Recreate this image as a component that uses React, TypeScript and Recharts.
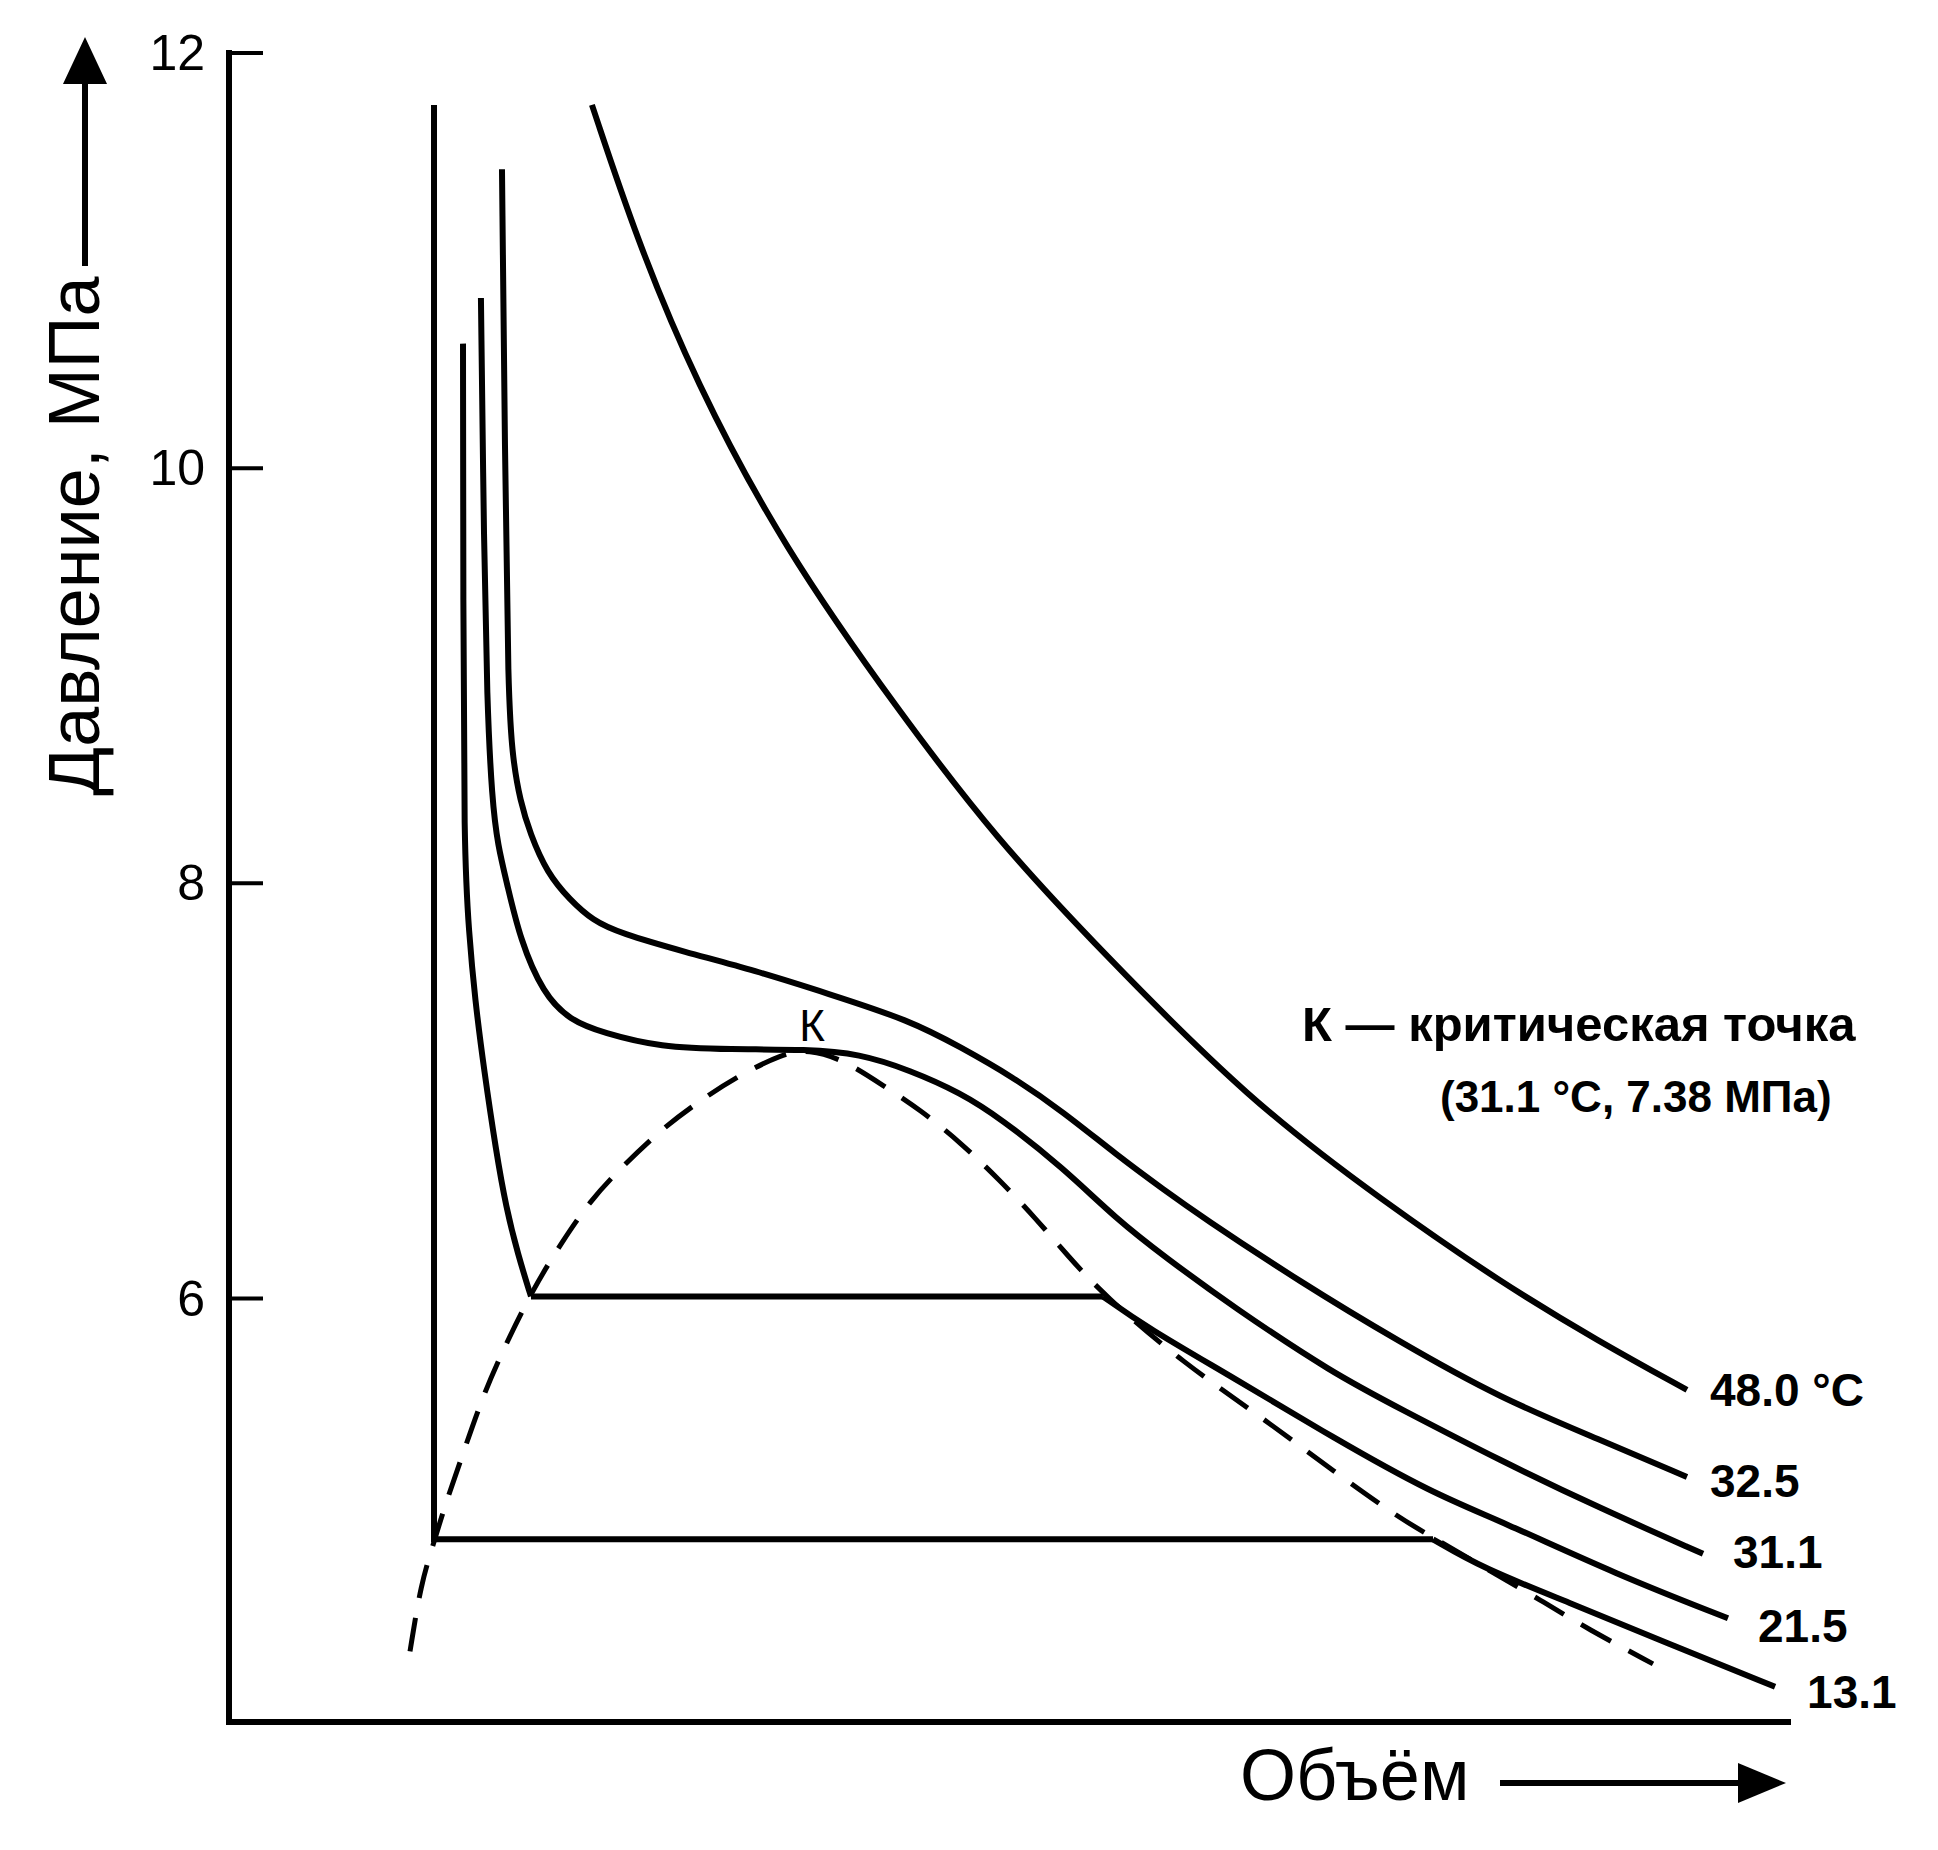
import { LineChart, Line, XAxis, YAxis, ReferenceDot } from 'recharts';

type Pt = { v: number; p: number };

// volume in arbitrary units (0..100), pressure in MPa
const iso48: Pt[] = [
  { v: 23.28, p: 11.75 }, { v: 26.17, p: 11.1 }, { v: 29.89, p: 10.42 }, { v: 35.54, p: 9.62 },
  { v: 43.04, p: 8.82 }, { v: 49.26, p: 8.21 }, { v: 55.87, p: 7.68 }, { v: 65.49, p: 6.95 },
  { v: 74.02, p: 6.47 }, { v: 81.53, p: 6.08 }, { v: 87.94, p: 5.79 }, { v: 93.52, p: 5.56 },
];

const iso325: Pt[] = [
  { v: 17.51, p: 11.44 }, { v: 17.7, p: 10.09 }, { v: 17.9, p: 8.88 }, { v: 18.22, p: 8.59 },
  { v: 18.67, p: 8.4 }, { v: 19.31, p: 8.24 }, { v: 20.4, p: 8.05 }, { v: 21.87, p: 7.92 },
  { v: 23.35, p: 7.82 }, { v: 25.08, p: 7.76 }, { v: 29.19, p: 7.67 }, { v: 33.74, p: 7.58 },
  { v: 38.36, p: 7.47 }, { v: 43.68, p: 7.34 }, { v: 46.95, p: 7.21 }, { v: 50.22, p: 7.07 },
  { v: 53.5, p: 6.9 }, { v: 56.96, p: 6.69 }, { v: 60.04, p: 6.52 }, { v: 62.28, p: 6.4 },
  { v: 68.7, p: 6.08 }, { v: 75.11, p: 5.79 }, { v: 81.53, p: 5.52 }, { v: 87.94, p: 5.32 },
  { v: 93.52, p: 5.14 },
];

const iso311: Pt[] = [
  { v: 16.16, p: 10.82 }, { v: 16.36, p: 9.6 }, { v: 16.55, p: 8.88 }, { v: 16.87, p: 8.4 },
  { v: 17.25, p: 8.18 }, { v: 17.83, p: 8.0 }, { v: 18.67, p: 7.73 }, { v: 20.14, p: 7.47 },
  { v: 21.87, p: 7.34 }, { v: 23.99, p: 7.28 }, { v: 27.65, p: 7.21 }, { v: 32.14, p: 7.2 },
  { v: 37.14, p: 7.2 }, { v: 40.41, p: 7.18 }, { v: 43.68, p: 7.1 }, { v: 46.95, p: 6.99 },
  { v: 49.45, p: 6.87 }, { v: 53.5, p: 6.63 }, { v: 56.96, p: 6.38 }, { v: 60.04, p: 6.2 },
  { v: 64.4, p: 5.96 }, { v: 70.81, p: 5.64 }, { v: 75.11, p: 5.47 }, { v: 81.53, p: 5.22 },
  { v: 87.94, p: 4.99 }, { v: 94.55, p: 4.77 },
];

const iso215Liquid: Pt[] = [
  { v: 15.01, p: 10.6 }, { v: 15.03, p: 9.36 }, { v: 15.07, p: 8.16 }, { v: 15.39, p: 7.76 },
  { v: 15.78, p: 7.44 }, { v: 16.36, p: 7.1 }, { v: 17.13, p: 6.71 }, { v: 17.77, p: 6.44 },
  { v: 18.54, p: 6.21 }, { v: 19.37, p: 6.01 },
];
const iso215Plateau: Pt[] = [{ v: 19.37, p: 6.01 }, { v: 56.06, p: 6.01 }];
const iso215Gas: Pt[] = [
  { v: 56.06, p: 6.01 }, { v: 58.88, p: 5.86 }, { v: 64.4, p: 5.62 }, { v: 70.81, p: 5.33 },
  { v: 77.23, p: 5.06 }, { v: 81.53, p: 4.93 }, { v: 89.03, p: 4.67 }, { v: 96.15, p: 4.46 },
];

const iso131Plateau: Pt[] = [{ v: 13.15, p: 11.75 }, { v: 13.15, p: 4.84 }, { v: 77.23, p: 4.84 }];
const iso131Gas: Pt[] = [
  { v: 77.23, p: 4.84 }, { v: 80.44, p: 4.7 }, { v: 85.82, p: 4.54 }, { v: 92.24, p: 4.34 },
  { v: 99.17, p: 4.13 },
];

// saturation dome (dashed)
const dome: Pt[] = [
  { v: 11.61, p: 4.3 }, { v: 12.32, p: 4.63 }, { v: 13.09, p: 4.81 }, { v: 13.79, p: 4.99 },
  { v: 14.82, p: 5.21 }, { v: 16.04, p: 5.48 }, { v: 17.25, p: 5.7 }, { v: 19.44, p: 6.04 },
  { v: 21.42, p: 6.28 }, { v: 23.16, p: 6.47 }, { v: 25.02, p: 6.62 }, { v: 27.65, p: 6.81 },
  { v: 29.96, p: 6.94 }, { v: 32.58, p: 7.07 }, { v: 35.54, p: 7.18 }, { v: 37.14, p: 7.2 },
  { v: 39.45, p: 7.15 }, { v: 42.08, p: 7.02 }, { v: 44.32, p: 6.91 }, { v: 46.95, p: 6.75 },
  { v: 49.45, p: 6.57 }, { v: 51.7, p: 6.39 }, { v: 53.75, p: 6.21 }, { v: 56.06, p: 6.02 },
  { v: 61.19, p: 5.69 }, { v: 66.58, p: 5.41 }, { v: 70.81, p: 5.17 }, { v: 75.11, p: 4.94 },
  { v: 77.23, p: 4.85 }, { v: 81.53, p: 4.66 }, { v: 84.29, p: 4.54 }, { v: 87.11, p: 4.41 },
  { v: 91.34, p: 4.24 },
];

const criticalPoint: Pt = { v: 37.14, p: 7.2 };
const pressureTicks = [6, 8, 10, 12];

const W = 1930;
const H = 1842;
const FONT = '"Liberation Sans", Arial, Helvetica, sans-serif';
const STROKE = 6;

function PressureTick(props: any) {
  const { x, y, payload } = props;
  return (
    <g>
      <line x1={x} x2={x + 34} y1={y} y2={y} stroke="#000" strokeWidth={4} />
      <text x={x - 24} y={y} textAnchor="end" dominantBaseline="central" fontFamily={FONT} fontSize={50} fill="#000">
        {payload.value}
      </text>
    </g>
  );
}

const endLabel = (text: string, n: number, dx: number, dy: number) => (props: any) => {
  if (props.index !== n - 1) return <g />;
  return (
    <text x={props.x + dx} y={props.y + dy} fontFamily={FONT} fontWeight="bold" fontSize={46} fill="#000">
      {text}
    </text>
  );
};

export default function App() {
  const line = { type: 'basis' as const, dataKey: 'p', stroke: '#000', strokeWidth: STROKE, dot: false, isAnimationActive: false };
  return (
    <div style={{ position: 'relative', width: W, height: H, background: '#fff' }}>
      <LineChart width={W} height={H} margin={{ top: 45, right: 150, bottom: 126, left: 121 }}>
        <XAxis
          type="number"
          dataKey="v"
          domain={[0, 100]}
          tick={false}
          tickLine={false}
          height={2}
          axisLine={{ stroke: '#000', strokeWidth: 6, strokeLinecap: 'square' }}
        />
        <YAxis
          type="number"
          dataKey="p"
          domain={[3.96, 12]}
          ticks={pressureTicks}
          interval={0}
          width={100}
          tickSize={0}
          tickMargin={0}
          tickLine={false}
          tick={<PressureTick />}
          axisLine={{ stroke: '#000', strokeWidth: 6, strokeLinecap: 'square' }}
        />
        <Line {...line} data={dome} strokeDasharray="34 20" strokeWidth={5} />
        <Line {...line} data={iso48} label={endLabel('48.0 °C', iso48.length, 23, 16)} />
        <Line {...line} data={iso325} label={endLabel('32.5', iso325.length, 23, 20)} />
        <Line {...line} data={iso311} label={endLabel('31.1', iso311.length, 30, 14)} />
        <Line {...line} data={iso215Liquid} />
        <Line {...line} type="linear" data={iso215Plateau} />
        <Line {...line} data={iso215Gas} label={endLabel('21.5', iso215Gas.length, 30, 24)} />
        <Line {...line} type="linear" data={iso131Plateau} />
        <Line {...line} data={iso131Gas} label={endLabel('13.1', iso131Gas.length, 32, 21)} />
        <ReferenceDot
          x={criticalPoint.v}
          y={criticalPoint.p}
          r={0}
          label={{
            content: (p: any) => (
              <text x={p.viewBox.x + 4} y={p.viewBox.y - 8} textAnchor="middle" fontFamily={FONT} fontSize={44} fill="#000">
                К
              </text>
            ),
          }}
        />
      </LineChart>
      <svg width={W} height={H} style={{ position: 'absolute', left: 0, top: 0, pointerEvents: 'none' }}>
        <text x={91} y={528} transform="rotate(-90 91 528)" textAnchor="middle" fontFamily={FONT} fontSize={72} fill="#000">
          Давление, МПа
        </text>
        <line x1={77} x2={77} y1={258} y2={70} stroke="#000" strokeWidth={6} />
        <polygon points="77,29 55,76 99,76" fill="#000" />
        <text x={1232} y={1792} fontFamily={FONT} fontSize={72} fill="#000">Объём</text>
        <line x1={1492} x2={1740} y1={1775} y2={1775} stroke="#000" strokeWidth={6} />
        <polygon points="1778,1775 1730,1755 1730,1795" fill="#000" />
        <text x={1294} y={1033} fontFamily={FONT} fontWeight="bold" fontSize={49} fill="#000">
          К — критическая точка
        </text>
        <text x={1432} y={1104} fontFamily={FONT} fontWeight="bold" fontSize={44} fill="#000">
          (31.1 °C, 7.38 МПа)
        </text>
      </svg>
    </div>
  );
}
